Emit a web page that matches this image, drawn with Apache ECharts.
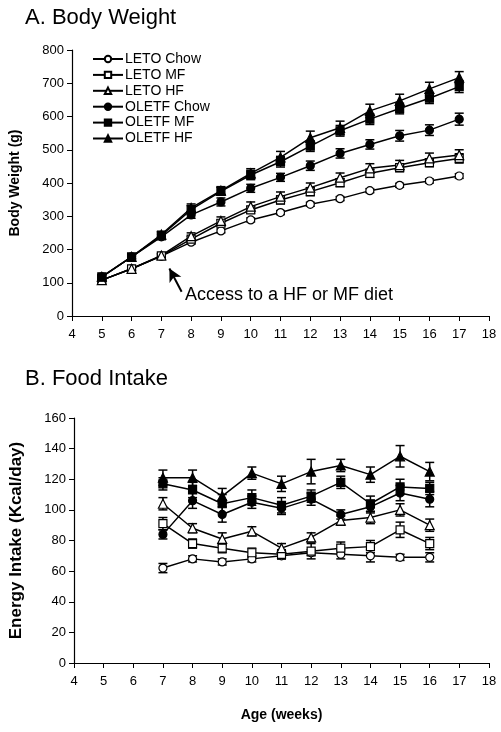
<!DOCTYPE html>
<html>
<head>
<meta charset="utf-8">
<script src="https://cdn.jsdelivr.net/npm/echarts@6/dist/echarts.min.js"></script>
<style>
html,body{margin:0;padding:0;background:#fff;}
#chart{width:501px;height:732px;}
</style>
</head>
<body>
<div id="chart"></div>
<script>
// ---------- Data ----------
const seriesNames = ['LETO Chow', 'LETO MF', 'LETO HF', 'OLETF Chow', 'OLETF MF', 'OLETF HF'];
const xTicks = [4, 5, 6, 7, 8, 9, 10, 11, 12, 13, 14, 15, 16, 17, 18];
const bodyWeightTicks = [0, 100, 200, 300, 400, 500, 600, 700, 800];
const intakeTicks = [0, 20, 40, 60, 80, 100, 120, 140, 160];

// A. Body Weight (g)
const weeksA = [5, 6, 7, 8, 9, 10, 11, 12, 13, 14, 15, 16, 17];
const letoChowA  = [108, 142, 180, 222, 256, 289, 311, 336, 353, 377, 393, 406, 421];
const letoMfA    = [108, 142, 181, 231, 279, 319, 349, 374, 401, 429, 446, 461, 474];
const letoHfA    = [108, 142, 182, 240, 286, 329, 359, 386, 416, 444, 454, 474, 484];
const oletfChowA = [118, 178, 238, 304, 343, 384, 417, 452, 489, 516, 542, 559, 592];
const oletfMfA   = [118, 178, 242, 320, 375, 424, 464, 511, 557, 592, 624, 655, 690];
const oletfHfA   = [118, 178, 245, 325, 377, 429, 477, 536, 566, 617, 647, 683, 717];
const letoChowAErr  = [4, 5, 5, 6, 6, 6, 6, 6, 6, 6, 6, 6, 7];
const letoMfAErr    = [4, 5, 6, 8, 10, 10, 12, 12, 12, 12, 12, 12, 14];
const letoHfAErr    = [4, 5, 6, 10, 12, 14, 14, 14, 14, 14, 14, 16, 16];
const oletfChowAErr = [5, 6, 8, 10, 12, 12, 12, 14, 14, 14, 16, 16, 18];
const oletfMfAErr   = [5, 6, 10, 12, 12, 14, 16, 16, 16, 16, 16, 16, 18];
const oletfHfAErr   = [5, 6, 10, 12, 12, 14, 18, 20, 20, 20, 20, 20, 18];

// B. Food Intake (Kcal/day)
const weeksB = [7, 8, 9, 10, 11, 12, 13, 14, 15, 16];
const letoChowB  = [62, 68, 66, 68, 70, 72, 71, 70, 69, 69];
const letoMfB    = [91, 78, 75, 72, 71, 73, 75, 76, 87, 78];
const letoHfB    = [104, 88, 81, 86, 75, 82, 93, 95, 100, 90];
const oletfChowB = [84, 106, 97, 105, 101, 107, 97, 102, 111, 107];
const oletfMfB   = [117, 113, 104, 108, 103, 109, 118, 104, 115, 114];
const oletfHfB   = [121, 121, 109, 124, 117, 125, 129, 123, 135, 125];
const letoChowBErr  = [3, 2, 2, 2, 2, 2, 3, 4, 2, 3];
const letoMfBErr    = [4, 3, 3, 3, 3, 5, 4, 4, 5, 4];
const letoHfBErr    = [4, 3, 4, 3, 3, 3, 3, 4, 4, 4];
const oletfChowBErr = [3, 5, 5, 4, 4, 4, 3, 4, 5, 5];
const oletfMfBErr   = [4, 5, 6, 5, 5, 4, 4, 5, 5, 4];
const oletfHfBErr   = [5, 5, 5, 4, 5, 8, 4, 5, 7, 6];

// Annotation (data coordinates of the arrow in panel A)
const arrowFrom = [7.68, 73];
const arrowTo = [7.27, 143];
const annotationText = 'Access to a HF or MF diet';

// ---------- Styles ----------
const FONT = "'Liberation Sans', Arial, sans-serif";
const styleDefs = [
  {symbol: 'circle', fill: '#fff', size: 8},
  {symbol: 'rect', fill: '#fff', size: 8},
  {symbol: 'triangle', fill: '#fff', size: 9},
  {symbol: 'circle', fill: '#000', size: 8},
  {symbol: 'rect', fill: '#000', size: 8},
  {symbol: 'triangle', fill: '#000', size: 9}
];

const dataA = [letoChowA, letoMfA, letoHfA, oletfChowA, oletfMfA, oletfHfA];
const errA = [letoChowAErr, letoMfAErr, letoHfAErr, oletfChowAErr, oletfMfAErr, oletfHfAErr];
const dataB = [letoChowB, letoMfB, letoHfB, oletfChowB, oletfMfB, oletfHfB];
const errB = [letoChowBErr, letoMfBErr, letoHfBErr, oletfChowBErr, oletfMfBErr, oletfHfBErr];

function errSeries(idx, weeks, vals, errs) {
  return {
    type: 'custom',
    xAxisIndex: idx, yAxisIndex: idx,
    silent: true, z: 2,
    data: weeks.map((w, i) => [w, vals[i] - errs[i], vals[i] + errs[i]]),
    encode: {x: 0, y: [1, 2]},
    renderItem: function (params, api) {
      const lo = api.coord([api.value(0), api.value(1)]);
      const hi = api.coord([api.value(0), api.value(2)]);
      const hw = 4.5;
      const st = {stroke: '#000', lineWidth: 1.5};
      return {
        type: 'group',
        children: [
          {type: 'line', shape: {x1: lo[0], y1: lo[1], x2: hi[0], y2: hi[1]}, style: st},
          {type: 'line', shape: {x1: lo[0] - hw, y1: lo[1], x2: lo[0] + hw, y2: lo[1]}, style: st},
          {type: 'line', shape: {x1: hi[0] - hw, y1: hi[1], x2: hi[0] + hw, y2: hi[1]}, style: st}
        ]
      };
    }
  };
}

function lineSeries(idx, name, k, weeks, vals) {
  const s = styleDefs[k];
  return {
    type: 'line', name: name,
    xAxisIndex: idx, yAxisIndex: idx,
    data: weeks.map((w, i) => [w, vals[i]]),
    symbol: s.symbol, symbolSize: s.size, showSymbol: true,
    lineStyle: {color: '#000', width: 1.5},
    itemStyle: {color: s.fill, borderColor: '#000', borderWidth: 1.2},
    z: 3, silent: true
  };
}

const series = [];
for (let k = 0; k < 6; k++) series.push(errSeries(0, weeksA, dataA[k], errA[k]));
for (let k = 0; k < 6; k++) series.push(errSeries(1, weeksB, dataB[k], errB[k]));
for (let k = 0; k < 6; k++) series.push(lineSeries(0, seriesNames[k], k, weeksA, dataA[k]));
for (let k = 0; k < 6; k++) series.push(lineSeries(1, seriesNames[k] + ' ', k, weeksB, dataB[k]));

// arrow annotation
series.push({
  type: 'line', xAxisIndex: 0, yAxisIndex: 0, data: [], silent: true,
  markLine: {
    silent: true, symbol: ['none', 'arrow'], symbolSize: [10, 13],
    lineStyle: {color: '#000', width: 2, type: 'solid'},
    label: {show: false},
    data: [[{coord: arrowFrom}, {coord: arrowTo}]]
  }
});

function xAxis(gi, showName) {
  return {
    type: 'value', gridIndex: gi, min: xTicks[0], max: xTicks[xTicks.length - 1], interval: 1,
    axisLine: {lineStyle: {color: '#000', width: 1.2}},
    axisTick: {show: true, length: 5, lineStyle: {color: '#000', width: 1}},
    axisLabel: {color: '#000', fontSize: 13, fontFamily: FONT, margin: 12},
    splitLine: {show: false},
    name: showName ? 'Age (weeks)' : '',
    nameLocation: 'middle', nameGap: 45,
    nameTextStyle: {color: '#000', fontSize: 14, fontWeight: 'bold', fontFamily: "'Liberation Sans Narrow', " + FONT}
  };
}
function yAxis(gi, ticks, name, nameSize, nameGap) {
  return {
    type: 'value', gridIndex: gi, min: ticks[0], max: ticks[ticks.length - 1],
    interval: ticks[1] - ticks[0],
    axisLine: {show: true, lineStyle: {color: '#000', width: 1.2}},
    axisTick: {show: true, length: 5, lineStyle: {color: '#000', width: 1}},
    axisLabel: {color: '#000', fontSize: 13, fontFamily: FONT, margin: 8},
    splitLine: {show: false},
    name: name, nameLocation: 'middle', nameGap: nameGap,
    nameTextStyle: {color: '#000', fontSize: nameSize, fontWeight: 'bold', fontFamily: FONT}
  };
}

const option = {
  backgroundColor: '#fff',
  animation: false,
  title: [
    {text: 'A. Body Weight', left: 20, top: 2, textStyle: {fontSize: 22, fontWeight: 'normal', color: '#000', fontFamily: FONT}},
    {text: 'B. Food Intake', left: 20, top: 363, textStyle: {fontSize: 22, fontWeight: 'normal', color: '#000', fontFamily: FONT}}
  ],
  legend: {
    data: seriesNames, orient: 'vertical', left: 87, top: 47,
    itemWidth: 30, itemHeight: 8, itemGap: 1.9,
    textStyle: {fontSize: 14, color: '#000', fontFamily: FONT, padding: [0, 0, 0, -3]},
    selectedMode: false
  },
  grid: [
    {left: 72, right: 12, top: 50, height: 266},
    {left: 72, right: 12, top: 418, height: 245}
  ],
  xAxis: [xAxis(0, false), xAxis(1, true)],
  yAxis: [yAxis(0, bodyWeightTicks, 'Body Weight (g)', 14, 50), yAxis(1, intakeTicks, 'Energy Intake (Kcal/day)', 17, 49)],
  graphic: [
    {type: 'text', left: 185, top: 286, style: {text: annotationText, fontSize: 18, fill: '#000', fontFamily: FONT}}
  ],
  series: series
};

const chart = echarts.init(document.getElementById('chart'), null, {renderer: 'canvas'});
chart.setOption(option);
</script>
</body>
</html>
